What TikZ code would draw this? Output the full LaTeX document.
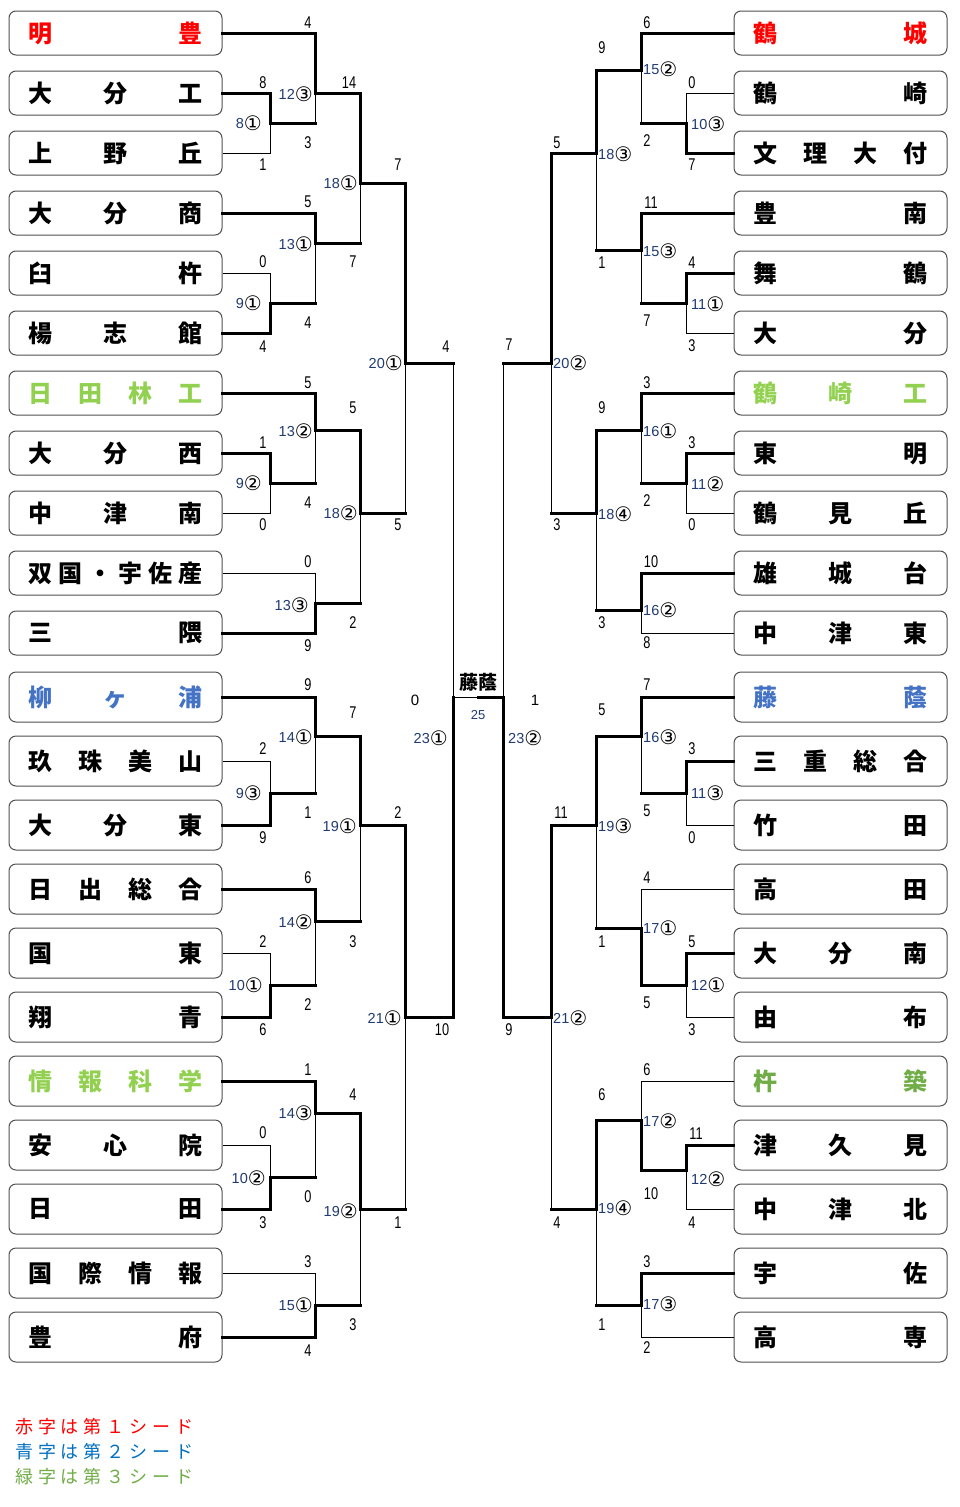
\documentclass[tikz,border=0pt]{standalone}
\usepackage{fontspec}
\newfontfamily\jp{Noto Sans CJK JP}
\newfontfamily\scf[FakeStretch=0.75]{Liberation Sans}
\newfontfamily\numf{Liberation Sans}
\newfontfamily\dvs{DejaVu Sans}
\definecolor{seedred}{HTML}{FF0000}
\definecolor{seedblue}{HTML}{4472C4}
\definecolor{seedgreen}{HTML}{92D050}
\definecolor{seedgreenb}{HTML}{70AD47}
\definecolor{legblue}{HTML}{0070C0}
\definecolor{navy}{HTML}{1F3B73}
\definecolor{boxline}{HTML}{505050}
\tikzset{
  boxS/.style={draw=boxline, line width=1pt, rounded corners=7pt, minimum width=213pt, minimum height=44pt, inner sep=0pt, font=\jp\bfseries\fontsize{24}{24}\selectfont},
  boxT/.style={boxS, minimum height=50pt},
  win/.style={line width=3pt, line cap=rect},
  lose/.style={line width=1pt},
  score/.style={inner sep=0pt, font=\scf\fontsize{17}{17}\selectfont},
  mlab/.style={inner sep=0pt, font=\numf\fontsize{14.5}{14.5}\selectfont},
  big/.style={inner sep=0pt, font=\numf\fontsize{15}{15}\selectfont},
  legend/.style={inner sep=0pt, anchor=west, font=\jp\fontsize{18}{18}\selectfont},
}
\newcommand\circd[1]{\raisebox{-2.2pt}{\dvs\fontsize{20}{20}\selectfont #1}}
\newcommand\team[6]{\node[#1, text=#5] (#2) at (#3,#4) {\hbox to 174pt{#6}};}
\newcommand\tmL[3]{\draw[#3] (#1.east) -| (#2);}
\newcommand\tmR[3]{\draw[#3] (#1.west) -| (#2);}
\newcommand\mmx[3]{\draw[win] (#1) -- (#1 -| #2); \draw[#3] (#1 -| #2) -- (#2);}
\newcommand\labL[5]{\node[mlab,anchor=east] (#1) at (#2,#3) {{\color{navy}#4}\circd{#5}};}
\newcommand\labR[5]{\node[mlab,anchor=west] (#1) at (#2,#3) {{\color{navy}#4}\circd{#5}};}
\newcounter{scn}
\newcommand\scoreat[3]{\stepcounter{scn}\node[score] (sc\arabic{scn}) at (#1,#2) {#3};}
\begin{document}
\begin{tikzpicture}[x=1pt,y=-1pt]
\fill[white] (0,0) rectangle (960,1507);
\useasboundingbox (0,0) rectangle (960,1507);
% ---------- left teams
\team{boxS}{tl1}{115.5}{33}{seedred}{明\hfill 豊}
\team{boxS}{tl2}{115.5}{93}{black}{大\hfill 分\hfill 工}
\team{boxS}{tl3}{115.5}{153}{black}{上\hfill 野\hfill 丘}
\team{boxS}{tl4}{115.5}{213}{black}{大\hfill 分\hfill 商}
\team{boxS}{tl5}{115.5}{273}{black}{臼\hfill 杵}
\team{boxS}{tl6}{115.5}{333}{black}{楊\hfill 志\hfill 館}
\team{boxS}{tl7}{115.5}{393}{seedgreen}{日\hfill 田\hfill 林\hfill 工}
\team{boxS}{tl8}{115.5}{453}{black}{大\hfill 分\hfill 西}
\team{boxS}{tl9}{115.5}{513}{black}{中\hfill 津\hfill 南}
\team{boxS}{tl10}{115.5}{573}{black}{双\hfill 国\hfill ・\hfill 宇\hfill 佐\hfill 産}
\team{boxS}{tl11}{115.5}{633}{black}{三\hfill 隈}
\team{boxT}{tl12}{115.5}{697}{seedblue}{柳\hfill ヶ\hfill 浦}
\team{boxT}{tl13}{115.5}{761}{black}{玖\hfill 珠\hfill 美\hfill 山}
\team{boxT}{tl14}{115.5}{825}{black}{大\hfill 分\hfill 東}
\team{boxT}{tl15}{115.5}{889}{black}{日\hfill 出\hfill 総\hfill 合}
\team{boxT}{tl16}{115.5}{953}{black}{国\hfill 東}
\team{boxT}{tl17}{115.5}{1017}{black}{翔\hfill 青}
\team{boxT}{tl18}{115.5}{1081}{seedgreen}{情\hfill 報\hfill 科\hfill 学}
\team{boxT}{tl19}{115.5}{1145}{black}{安\hfill 心\hfill 院}
\team{boxT}{tl20}{115.5}{1209}{black}{日\hfill 田}
\team{boxT}{tl21}{115.5}{1273}{black}{国\hfill 際\hfill 情\hfill 報}
\team{boxT}{tl22}{115.5}{1337}{black}{豊\hfill 府}
% ---------- right teams
\team{boxS}{tr1}{840.5}{33}{seedred}{鶴\hfill 城}
\team{boxS}{tr2}{840.5}{93}{black}{鶴\hfill 崎}
\team{boxS}{tr3}{840.5}{153}{black}{文\hfill 理\hfill 大\hfill 付}
\team{boxS}{tr4}{840.5}{213}{black}{豊\hfill 南}
\team{boxS}{tr5}{840.5}{273}{black}{舞\hfill 鶴}
\team{boxS}{tr6}{840.5}{333}{black}{大\hfill 分}
\team{boxS}{tr7}{840.5}{393}{seedgreen}{鶴\hfill 崎\hfill 工}
\team{boxS}{tr8}{840.5}{453}{black}{東\hfill 明}
\team{boxS}{tr9}{840.5}{513}{black}{鶴\hfill 見\hfill 丘}
\team{boxS}{tr10}{840.5}{573}{black}{雄\hfill 城\hfill 台}
\team{boxS}{tr11}{840.5}{633}{black}{中\hfill 津\hfill 東}
\team{boxT}{tr12}{840.5}{697}{seedblue}{藤\hfill 蔭}
\team{boxT}{tr13}{840.5}{761}{black}{三\hfill 重\hfill 総\hfill 合}
\team{boxT}{tr14}{840.5}{825}{black}{竹\hfill 田}
\team{boxT}{tr15}{840.5}{889}{black}{高\hfill 田}
\team{boxT}{tr16}{840.5}{953}{black}{大\hfill 分\hfill 南}
\team{boxT}{tr17}{840.5}{1017}{black}{由\hfill 布}
\team{boxT}{tr18}{840.5}{1081}{seedgreenb}{杵\hfill 築}
\team{boxT}{tr19}{840.5}{1145}{black}{津\hfill 久\hfill 見}
\team{boxT}{tr20}{840.5}{1209}{black}{中\hfill 津\hfill 北}
\team{boxT}{tr21}{840.5}{1273}{black}{宇\hfill 佐}
\team{boxT}{tr22}{840.5}{1337}{black}{高\hfill 専}
% ---------- match junctions (left)
\coordinate (ml8a) at (270,123);
\coordinate (ml12c) at (315,93);
\coordinate (ml9a) at (270,303);
\coordinate (ml13a) at (315,243);
\coordinate (ml18a) at (360,183);
\coordinate (ml9b) at (270,483);
\coordinate (ml13b) at (315,430);
\coordinate (ml13c) at (315,603);
\coordinate (ml18b) at (360,513);
\coordinate (ml20a) at (405,363);
\coordinate (ml9c) at (270,793);
\coordinate (ml14a) at (315,736);
\coordinate (ml10a) at (270,985);
\coordinate (ml14b) at (315,921);
\coordinate (ml19a) at (360,825);
\coordinate (ml10b) at (270,1177);
\coordinate (ml14c) at (315,1113);
\coordinate (ml15a) at (315,1305);
\coordinate (ml19b) at (360,1209);
\coordinate (ml21a) at (405,1017);
\coordinate (ml23a) at (453,697);
% ---------- match junctions (right)
\coordinate (mr10c) at (686,123);
\coordinate (mr15b) at (641,70);
\coordinate (mr11a) at (686,303);
\coordinate (mr15c) at (641,250);
\coordinate (mr18c) at (596,153);
\coordinate (mr11b) at (686,483);
\coordinate (mr16a) at (641,430);
\coordinate (mr16b) at (641,610);
\coordinate (mr18d) at (596,513);
\coordinate (mr20b) at (551,363);
\coordinate (mr11c) at (686,793);
\coordinate (mr16c) at (641,736);
\coordinate (mr12a) at (686,985);
\coordinate (mr17a) at (641,928);
\coordinate (mr19c) at (596,825);
\coordinate (mr12b) at (686,1170);
\coordinate (mr17b) at (641,1120);
\coordinate (mr17c) at (641,1305);
\coordinate (mr19d) at (596,1209);
\coordinate (mr21b) at (551,1017);
\coordinate (mr23b) at (503,697);
\coordinate (fin) at (478,697);
% ---------- connectors left
\tmL{tl2}{ml8a}{win} \tmL{tl3}{ml8a}{lose}
\tmL{tl1}{ml12c}{win} \mmx{ml8a}{ml12c}{lose}
\tmL{tl5}{ml9a}{lose} \tmL{tl6}{ml9a}{win}
\tmL{tl4}{ml13a}{win} \mmx{ml9a}{ml13a}{lose}
\mmx{ml12c}{ml18a}{win} \mmx{ml13a}{ml18a}{lose}
\tmL{tl8}{ml9b}{win} \tmL{tl9}{ml9b}{lose}
\tmL{tl7}{ml13b}{win} \mmx{ml9b}{ml13b}{lose}
\tmL{tl10}{ml13c}{lose} \tmL{tl11}{ml13c}{win}
\mmx{ml13b}{ml18b}{win} \mmx{ml13c}{ml18b}{lose}
\mmx{ml18a}{ml20a}{win} \mmx{ml18b}{ml20a}{lose}
\tmL{tl13}{ml9c}{lose} \tmL{tl14}{ml9c}{win}
\tmL{tl12}{ml14a}{win} \mmx{ml9c}{ml14a}{lose}
\tmL{tl16}{ml10a}{lose} \tmL{tl17}{ml10a}{win}
\tmL{tl15}{ml14b}{win} \mmx{ml10a}{ml14b}{lose}
\mmx{ml14a}{ml19a}{win} \mmx{ml14b}{ml19a}{lose}
\tmL{tl19}{ml10b}{lose} \tmL{tl20}{ml10b}{win}
\tmL{tl18}{ml14c}{win} \mmx{ml10b}{ml14c}{lose}
\tmL{tl21}{ml15a}{lose} \tmL{tl22}{ml15a}{win}
\mmx{ml14c}{ml19b}{win} \mmx{ml15a}{ml19b}{lose}
\mmx{ml19a}{ml21a}{win} \mmx{ml19b}{ml21a}{lose}
\mmx{ml20a}{ml23a}{lose} \mmx{ml21a}{ml23a}{win}
% ---------- connectors right
\tmR{tr2}{mr10c}{lose} \tmR{tr3}{mr10c}{win}
\tmR{tr1}{mr15b}{win} \mmx{mr10c}{mr15b}{lose}
\tmR{tr5}{mr11a}{win} \tmR{tr6}{mr11a}{lose}
\tmR{tr4}{mr15c}{win} \mmx{mr11a}{mr15c}{lose}
\mmx{mr15b}{mr18c}{win} \mmx{mr15c}{mr18c}{lose}
\tmR{tr8}{mr11b}{win} \tmR{tr9}{mr11b}{lose}
\tmR{tr7}{mr16a}{win} \mmx{mr11b}{mr16a}{lose}
\tmR{tr10}{mr16b}{win} \tmR{tr11}{mr16b}{lose}
\mmx{mr16a}{mr18d}{win} \mmx{mr16b}{mr18d}{lose}
\mmx{mr18c}{mr20b}{win} \mmx{mr18d}{mr20b}{lose}
\tmR{tr13}{mr11c}{win} \tmR{tr14}{mr11c}{lose}
\tmR{tr12}{mr16c}{win} \mmx{mr11c}{mr16c}{lose}
\tmR{tr16}{mr12a}{win} \tmR{tr17}{mr12a}{lose}
\tmR{tr15}{mr17a}{lose} \mmx{mr12a}{mr17a}{win}
\mmx{mr16c}{mr19c}{win} \mmx{mr17a}{mr19c}{lose}
\tmR{tr19}{mr12b}{win} \tmR{tr20}{mr12b}{lose}
\tmR{tr18}{mr17b}{lose} \mmx{mr12b}{mr17b}{win}
\tmR{tr21}{mr17c}{win} \tmR{tr22}{mr17c}{lose}
\mmx{mr17b}{mr19d}{win} \mmx{mr17c}{mr19d}{lose}
\mmx{mr19c}{mr21b}{win} \mmx{mr19d}{mr21b}{lose}
\mmx{mr20b}{mr23b}{lose} \mmx{mr21b}{mr23b}{win}
% ---------- final
\draw[lose] (ml23a) -- (fin);
\draw[win] (mr23b) -- (fin);
\node[inner sep=0pt, font=\jp\bfseries\fontsize{19}{19}\selectfont] (champ) at (478,682) {藤蔭};
\node[inner sep=0pt, text=navy, font=\numf\fontsize{13}{13}\selectfont] (g25) at (478,715) {25};
\node[big] (fl) at (415,700) {0};
\node[big] (fr) at (535,700) {1};
% ---------- match labels left
\labL{n8a}{262}{123}{8}{①}
\labL{n12c}{313}{94}{12}{③}
\labL{n9a}{262}{303}{9}{①}
\labL{n13a}{313}{244}{13}{①}
\labL{n18a}{358}{183}{18}{①}
\labL{n9b}{262}{483}{9}{②}
\labL{n13b}{313}{431}{13}{②}
\labL{n13c}{309}{605}{13}{③}
\labL{n18b}{358}{513}{18}{②}
\labL{n20a}{403}{363}{20}{①}
\labL{n9c}{262}{793}{9}{③}
\labL{n14a}{313}{737}{14}{①}
\labL{n10a}{263}{985}{10}{①}
\labL{n14b}{313}{922}{14}{②}
\labL{n19a}{357}{826}{19}{①}
\labL{n10b}{266}{1178}{10}{②}
\labL{n14c}{313}{1113}{14}{③}
\labL{n15a}{313}{1305}{15}{①}
\labL{n19b}{358}{1211}{19}{②}
\labL{n21a}{402}{1018}{21}{①}
\labL{n23a}{448}{738}{23}{①}
% ---------- match labels right
\labR{q10c}{691}{124}{10}{③}
\labR{q15b}{643}{69}{15}{②}
\labR{q11a}{691}{304}{11}{①}
\labR{q15c}{643}{251}{15}{③}
\labR{q18c}{598}{154}{18}{③}
\labR{q11b}{691}{484}{11}{②}
\labR{q16a}{643}{431}{16}{①}
\labR{q16b}{643}{610}{16}{②}
\labR{q18d}{598}{514}{18}{④}
\labR{q20b}{553}{363}{20}{②}
\labR{q11c}{691}{793}{11}{③}
\labR{q16c}{643}{737}{16}{③}
\labR{q12a}{691}{985}{12}{①}
\labR{q17a}{643}{928}{17}{①}
\labR{q19c}{598}{826}{19}{③}
\labR{q12b}{691}{1179}{12}{②}
\labR{q17b}{643}{1121}{17}{②}
\labR{q17c}{643}{1304}{17}{③}
\labR{q19d}{598}{1208}{19}{④}
\labR{q21b}{553}{1018}{21}{②}
\labR{q23b}{508}{738}{23}{②}
% ---------- scores left
\scoreat{308}{23}{4} \scoreat{263}{83}{8} \scoreat{349}{83}{14} \scoreat{308}{143}{3}
\scoreat{263}{165}{1} \scoreat{398}{165}{7} \scoreat{308}{202}{5} \scoreat{353}{262}{7}
\scoreat{263}{262}{0} \scoreat{308}{323}{4} \scoreat{263}{347}{4} \scoreat{446}{347}{4}
\scoreat{308}{383}{5} \scoreat{353}{408}{5} \scoreat{263}{443}{1} \scoreat{308}{503}{4}
\scoreat{263}{525}{0} \scoreat{398}{525}{5} \scoreat{308}{562}{0} \scoreat{353}{623}{2}
\scoreat{308}{646}{9}
\scoreat{308}{685}{9} \scoreat{353}{713}{7} \scoreat{263}{749}{2} \scoreat{308}{813}{1}
\scoreat{398}{813}{2} \scoreat{263}{838}{9} \scoreat{308}{878}{6} \scoreat{263}{942}{2}
\scoreat{353}{942}{3} \scoreat{308}{1005}{2} \scoreat{263}{1030}{6} \scoreat{442}{1030}{10}
\scoreat{308}{1070}{1} \scoreat{353}{1095}{4} \scoreat{263}{1133}{0} \scoreat{308}{1197}{0}
\scoreat{263}{1223}{3} \scoreat{398}{1223}{1} \scoreat{308}{1262}{3} \scoreat{353}{1325}{3}
\scoreat{308}{1351}{4}
% ---------- scores right
\scoreat{647}{23}{6} \scoreat{602}{48}{9} \scoreat{692}{83}{0} \scoreat{647}{141}{2}
\scoreat{557}{143}{5} \scoreat{692}{165}{7} \scoreat{651}{203}{11} \scoreat{602}{263}{1}
\scoreat{692}{263}{4} \scoreat{647}{321}{7} \scoreat{692}{346}{3} \scoreat{509}{345}{7}
\scoreat{647}{383}{3} \scoreat{602}{408}{9} \scoreat{692}{443}{3} \scoreat{647}{501}{2}
\scoreat{557}{525}{3} \scoreat{692}{525}{0} \scoreat{651}{562}{10} \scoreat{602}{623}{3}
\scoreat{647}{643}{8}
\scoreat{647}{685}{7} \scoreat{602}{710}{5} \scoreat{692}{749}{3} \scoreat{647}{811}{5}
\scoreat{561}{813}{11} \scoreat{692}{838}{0} \scoreat{647}{878}{4} \scoreat{602}{942}{1}
\scoreat{692}{942}{5} \scoreat{647}{1003}{5} \scoreat{509}{1030}{9} \scoreat{692}{1030}{3}
\scoreat{647}{1070}{6} \scoreat{602}{1095}{6} \scoreat{696}{1134}{11} \scoreat{651}{1194}{10}
\scoreat{557}{1223}{4} \scoreat{692}{1223}{4} \scoreat{647}{1262}{3} \scoreat{602}{1325}{1}
\scoreat{647}{1348}{2}
% ---------- legend
\node[legend, text=seedred] (leg1) at (15,1427) {\hbox to 178pt{赤\hfill 字\hfill は\hfill 第\hfill １\hfill シ\hfill ー\hfill ド}};
\node[legend, text=legblue] (leg2) at (15,1452) {\hbox to 178pt{青\hfill 字\hfill は\hfill 第\hfill ２\hfill シ\hfill ー\hfill ド}};
\node[legend, text=seedgreenb] (leg3) at (15,1477) {\hbox to 178pt{緑\hfill 字\hfill は\hfill 第\hfill ３\hfill シ\hfill ー\hfill ド}};
\end{tikzpicture}
\end{document}
